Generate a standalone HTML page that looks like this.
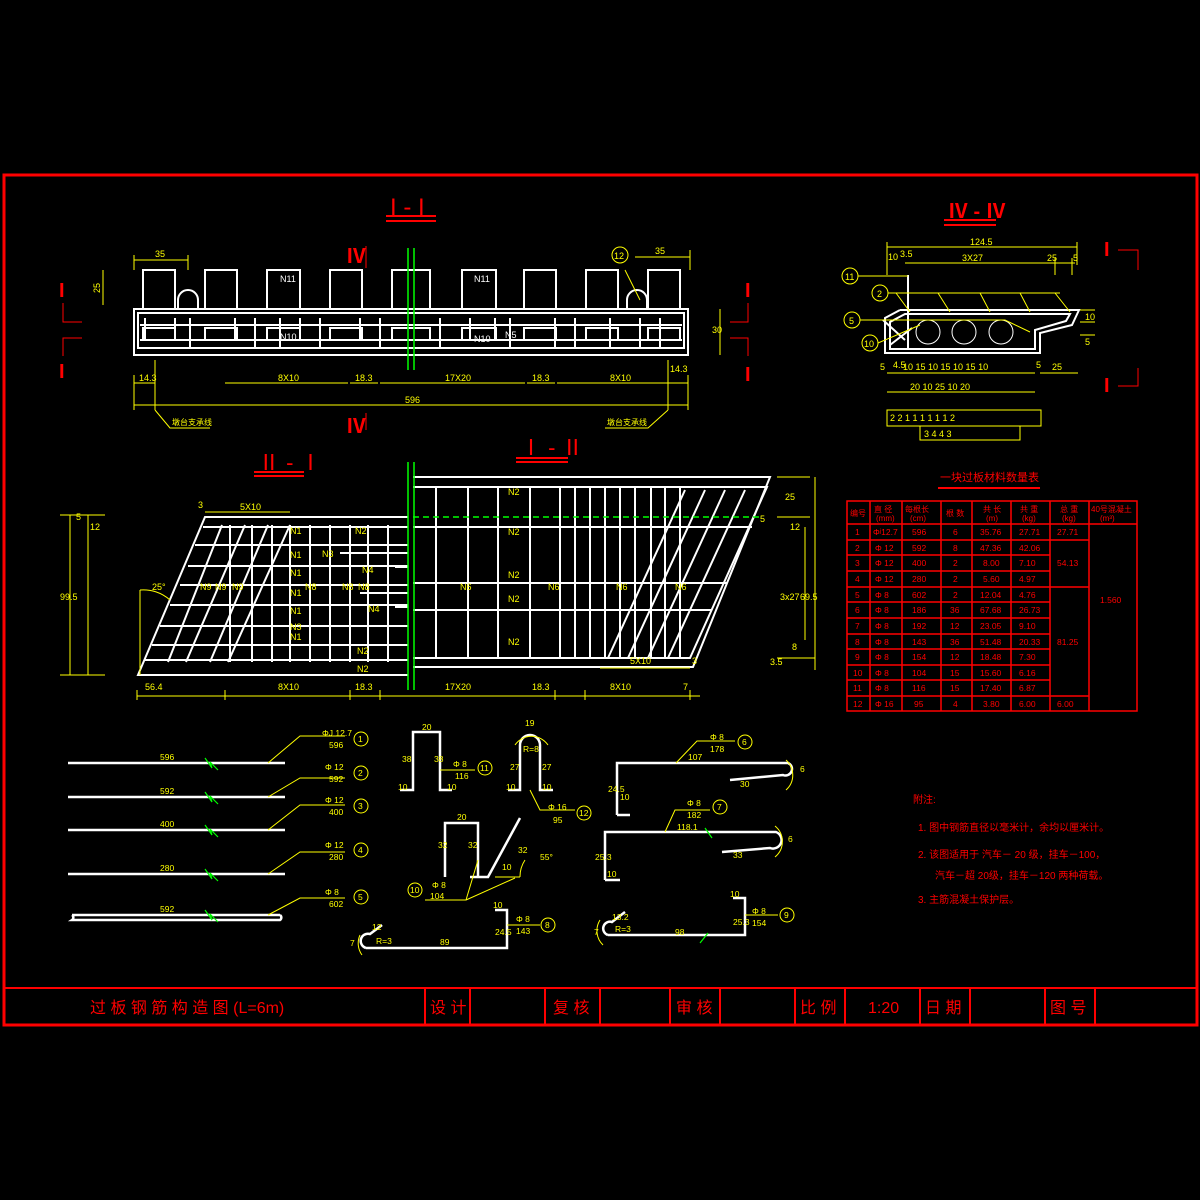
<!DOCTYPE html>
<html><head><meta charset="utf-8"><style>
body{margin:0;background:#000;width:1200px;height:1200px;overflow:hidden}
svg{display:block}
text{font-family:"Liberation Sans","Noto Sans CJK SC",sans-serif}
.y{fill:#ff0}.r{fill:#f00}.w{fill:#fff}
</style></head><body>
<svg width="1200" height="1200" viewBox="0 0 1200 1200" xmlns="http://www.w3.org/2000/svg">
<rect width="1200" height="1200" fill="#000"/>
<!-- frame -->
<rect x="4" y="175" width="1193" height="850" fill="none" stroke="#f00" stroke-width="3"/>
<line x1="4" y1="988" x2="1197" y2="988" stroke="#f00" stroke-width="2"/>
<g stroke="#f00" stroke-width="2">
<line x1="425" y1="988" x2="425" y2="1025"/><line x1="470" y1="988" x2="470" y2="1025"/>
<line x1="545" y1="988" x2="545" y2="1025"/><line x1="600" y1="988" x2="600" y2="1025"/>
<line x1="670" y1="988" x2="670" y2="1025"/><line x1="720" y1="988" x2="720" y2="1025"/>
<line x1="795" y1="988" x2="795" y2="1025"/><line x1="845" y1="988" x2="845" y2="1025"/>
<line x1="920" y1="988" x2="920" y2="1025"/><line x1="970" y1="988" x2="970" y2="1025"/>
<line x1="1045" y1="988" x2="1045" y2="1025"/><line x1="1095" y1="988" x2="1095" y2="1025"/>
</g>
<g class="r" font-size="16">
<text x="90" y="1013">过 板 钢 筋 构 造 图  (L=6m)</text>
<text x="430" y="1013">设 计</text><text x="553" y="1013">复 核</text>
<text x="676" y="1013">审 核</text><text x="800" y="1013">比 例</text>
<text x="868" y="1013">1:20</text><text x="925" y="1013">日 期</text>
<text x="1050" y="1013">图 号</text>
</g>

<!-- I-I title -->
<text x="390" y="215" class="r" font-size="24" font-family="Liberation Serif">I - I</text>
<line x1="386" y1="216" x2="436" y2="216" stroke="#f00" stroke-width="2"/><line x1="386" y1="221" x2="436" y2="221" stroke="#f00" stroke-width="2"/>
<!-- I-I section -->
<g stroke="#fff" stroke-width="2" fill="none">
<rect x="134" y="309" width="554" height="46"/>
<rect x="138" y="313" width="546" height="35"/>
<line x1="140" y1="340" x2="682" y2="340"/><line x1="140" y1="325" x2="682" y2="325"/>
<path d="M143 309V270H175V309M205 309V270H237V309M267 309V270H300V309M330 309V270H362V309M392 309V270H430V309M462 309V270H496V309M524 309V270H556V309M586 309V270H618V309M648 309V270H680V309"/>
<path d="M143 340V328H175V340M205 340V328H237V340M267 340V328H300V340M330 340V328H362V340M392 340V328H430V340M462 340V328H496V340M524 340V328H556V340M586 340V328H618V340M648 340V328H680V340"/>
<path d="M178 309V300A10 10 0 0 1 198 300V309M627 309V300A10 10 0 0 1 647 300V309"/>
<path d="M145 318V340M175 318V340M190 318V348M235 318V340M255 318V348M280 318V348M300 318V340M320 318V348M360 318V340M380 318V348M440 318V348M470 318V340M495 318V340M510 318V348M555 318V348M575 318V348M610 318V348M640 318V348M660 318V348"/>
</g>
<g stroke="#0f0" stroke-width="1.5"><line x1="408" y1="248" x2="408" y2="370"/><line x1="414" y1="248" x2="414" y2="370"/></g>
<g class="w" font-size="9"><text x="280" y="282">N11</text><text x="474" y="282">N11</text><text x="280" y="340">N10</text><text x="474" y="342">N10</text><text x="505" y="338">N5</text></g>
<g stroke="#ff0" stroke-width="1" fill="none">
<line x1="134" y1="260" x2="188" y2="260"/><line x1="134" y1="255" x2="134" y2="270"/><line x1="188" y1="255" x2="188" y2="270"/>
<line x1="635" y1="257" x2="690" y2="257"/><line x1="690" y1="250" x2="690" y2="270"/>
<line x1="103" y1="270" x2="103" y2="305"/><line x1="720" y1="309" x2="720" y2="355"/>
<line x1="134" y1="383" x2="155" y2="383"/><line x1="225" y1="383" x2="348" y2="383"/><line x1="350" y1="383" x2="378" y2="383"/><line x1="380" y1="383" x2="525" y2="383"/><line x1="527" y1="383" x2="555" y2="383"/><line x1="557" y1="383" x2="668" y2="383"/><line x1="668" y1="383" x2="688" y2="383"/>
<line x1="134" y1="405" x2="688" y2="405"/><line x1="134" y1="375" x2="134" y2="410"/><line x1="688" y1="375" x2="688" y2="410"/>
<line x1="155" y1="360" x2="155" y2="410"/><line x1="668" y1="360" x2="668" y2="410"/>
<path d="M155 410L170 428H210M668 410L648 428H605"/>
<line x1="625" y1="270" x2="640" y2="300"/>
</g>
<circle cx="620" cy="255" r="8" fill="none" stroke="#ff0"/>
<g class="y" font-size="9">
<text x="155" y="257">35</text><text x="655" y="254">35</text><text x="92" y="295" transform="rotate(-90 95 290)">25</text>
<text x="614" y="259">12</text>
<text x="139" y="381">14.3</text><text x="278" y="381">8X10</text><text x="355" y="381">18.3</text><text x="445" y="381">17X20</text><text x="532" y="381">18.3</text><text x="610" y="381">8X10</text><text x="670" y="372">14.3</text>
<text x="405" y="403">596</text><text x="172" y="425" font-size="8">墩台支承线</text><text x="607" y="425" font-size="8">墩台支承线</text>
<text x="712" y="333">30</text>
</g>
<g class="r" font-size="20" font-family="Liberation Serif" font-weight="bold">
<text x="346" y="263">Ⅳ</text><text x="346" y="433">Ⅳ</text>
<text x="59" y="297">I</text><text x="59" y="378">I</text><text x="745" y="297">I</text><text x="745" y="381">I</text>
</g>
<g stroke="#f00" fill="none"><path d="M63 303V322H82M63 356V338H82M748 303V322H730M748 356V338H730M366 246V268M366 413V430"/></g>

<!-- II-II -->
<text x="258" y="470" class="r" font-size="22" font-family="Liberation Serif">Ⅱ - Ⅰ</text>
<line x1="254" y1="472" x2="304" y2="472" stroke="#f00" stroke-width="2"/><line x1="254" y1="476" x2="304" y2="476" stroke="#f00" stroke-width="2"/>
<text x="520" y="455" class="r" font-size="22" font-family="Liberation Serif">Ⅰ - Ⅱ</text>
<line x1="516" y1="458" x2="568" y2="458" stroke="#f00" stroke-width="2"/><line x1="516" y1="462" x2="568" y2="462" stroke="#f00" stroke-width="2"/>
<g stroke="#fff" stroke-width="2" fill="none">
<path d="M408 517H205L138 675H408"/>
<path d="M408 527H203M408 545H195M408 566H188M408 585H180M408 605H170M408 626H160M408 645H152M408 660H145"/>
<path d="M230 525V662M252 525V662M272 525V662M290 525V662M310 525V662M330 525V662M350 525V662M368 525V662M388 525V662"/>
<path d="M222 525L168 662M245 525L186 662M268 525L210 662M290 525L228 662"/>
<path d="M413 477H770L693 667H413"/>
<path d="M413 487H767L690 658H413"/>
<path d="M413 527H752M413 583H727M413 610H712"/>
<path d="M436 487V658M468 487V658M498 487V658M530 487V658M560 487V658M575 487V658M590 487V658M605 487V658M620 487V658M635 487V658M651 487V658M665 487V658M680 487V658"/>
<path d="M685 490L608 658M705 490L628 658M725 490L648 658M745 490L668 658"/>
<path d="M340 553H408M360 593H408M395 567H408M395 607H408"/>
</g>
<line x1="413" y1="517" x2="760" y2="517" stroke="#0f0" stroke-width="1.5" stroke-dasharray="6 4"/>
<g stroke="#0f0" stroke-width="1.5"><line x1="408" y1="462" x2="408" y2="690"/><line x1="414" y1="462" x2="414" y2="690"/></g>
<g class="y" font-size="9">
<text x="355" y="534">N2</text><text x="290" y="534">N1</text><text x="290" y="558">N1</text><text x="290" y="576">N1</text><text x="290" y="596">N1</text><text x="290" y="614">N1</text><text x="290" y="630">N3</text><text x="290" y="640">N1</text>
<text x="322" y="557">N3</text><text x="362" y="573">N4</text><text x="368" y="612">N4</text><text x="357" y="654">N2</text><text x="357" y="672">N2</text>
<text x="508" y="495">N2</text><text x="508" y="535">N2</text><text x="508" y="578">N2</text><text x="508" y="602">N2</text><text x="508" y="645">N2</text>
<text x="460" y="590">N6</text><text x="548" y="590">N6</text><text x="616" y="590">N6</text><text x="675" y="590">N6</text>
<text x="200" y="590">N9</text><text x="215" y="590">N9</text><text x="232" y="590">N9</text><text x="305" y="590">N8</text><text x="342" y="590">N8</text><text x="358" y="590">N8</text>
<text x="240" y="510">5X10</text><text x="198" y="508">3</text><text x="630" y="664">5X10</text><text x="692" y="664">3</text>
<text x="152" y="590">25°</text>
<text x="145" y="690">56.4</text><text x="278" y="690">8X10</text><text x="355" y="690">18.3</text><text x="445" y="690">17X20</text><text x="532" y="690">18.3</text><text x="610" y="690">8X10</text><text x="683" y="690">7</text>
<text x="785" y="500">25</text><text x="760" y="522">5</text><text x="790" y="530">12</text><text x="780" y="600">3x27</text><text x="800" y="600">69.5</text><text x="792" y="650">8</text><text x="770" y="665">3.5</text>
<text x="60" y="600">99.5</text><text x="76" y="520">5</text><text x="90" y="530">12</text>
</g>
<g stroke="#ff0" stroke-width="1" fill="none">
<path d="M137 696H700M137 690V700M225 690V700M350 690V700M380 690V700M555 690V700M585 690V700M690 690V700"/>
<path d="M205 512H290M600 668H690M777 477H810M777 517H810M805 527V640M815 477V670M777 658H815"/>
<path d="M70 515V675M88 515V675M60 515H105M60 675H105"/>
<path d="M140 590V675M140 590A40 40 0 0 1 170 600"/>
</g>

<!-- IV-IV -->
<text x="948" y="218" class="r" font-size="20" font-family="Liberation Serif" font-weight="bold">Ⅳ - Ⅳ</text>
<line x1="944" y1="220" x2="996" y2="220" stroke="#f00" stroke-width="2"/><line x1="944" y1="225" x2="996" y2="225" stroke="#f00" stroke-width="2"/>
<g stroke="#fff" stroke-width="2" fill="none">
<path d="M900 310H1079L1072 325L1040 333V353H885V318L900 310"/>
<path d="M905 314H1070L1066 321L1035 330V349H890V322Z"/>
<circle cx="928" cy="332" r="12" stroke-width="1"/><circle cx="964" cy="332" r="12" stroke-width="1"/><circle cx="1001" cy="332" r="12" stroke-width="1"/>
<path d="M908 275V350M883 320L905 340M890 345L912 328"/>
</g>
<g stroke="#ff0" stroke-width="1" fill="none">
<path d="M887 247H1077M887 242V275M1077 242V265M905 263H1075M1055 258V275M1072 258V275"/>
<path d="M858 276H908M888 293H1060M896 293L910 312M938 293L950 312M980 293L990 312M1020 293L1030 312M1055 293L1070 312M860 320H1005L1030 332M878 343L920 325"/>
<path d="M887 373H1035M887 392H1035M1040 373H1078M1080 310H1095M1080 322H1095M1080 335H1095"/>
<rect x="887" y="410" width="154" height="16"/><rect x="920" y="426" width="100" height="14"/>
</g>
<g fill="none" stroke="#ff0"><circle cx="850" cy="276" r="8"/><circle cx="880" cy="293" r="8"/><circle cx="852" cy="320" r="8"/><circle cx="870" cy="343" r="8"/></g>
<g class="y" font-size="9">
<text x="845" y="280">11</text><text x="877" y="297">2</text><text x="849" y="324">5</text><text x="864" y="347">10</text>
<text x="970" y="245">124.5</text><text x="888" y="260">10</text><text x="900" y="257">3.5</text><text x="962" y="261">3X27</text><text x="1047" y="261">25</text><text x="1073" y="261">5</text>
<text x="1085" y="320">10</text><text x="1085" y="345">5</text>
<text x="880" y="370">5</text><text x="893" y="368">4.5</text><text x="903" y="370">10  15  10  15  10  15  10</text><text x="1036" y="368">5</text><text x="1052" y="370">25</text>
<text x="910" y="390">20   10     25    10   20</text>
<text x="890" y="421">2  2  1       1       1       1       1      1  2</text>
<text x="924" y="437">3       4                  4       3</text>
</g>
<g class="r" font-size="20" font-family="Liberation Serif" font-weight="bold"><text x="1104" y="256">I</text><text x="1104" y="392">I</text></g>
<g stroke="#f00" fill="none"><path d="M1118 250H1138V270M1118 386H1138V368"/></g>

<!-- material table -->
<text x="940" y="481" class="r" font-size="11">一块过板材料数量表</text>
<line x1="938" y1="488" x2="1040" y2="488" stroke="#f00" stroke-width="2"/>
<g stroke="#f00" stroke-width="1.5" fill="none">
<rect x="847" y="501" width="290" height="210"/>
<path d="M870 501V711M902 501V711M941 501V711M972 501V711M1011 501V711M1050 501V711M1089 501V711"/>
<path d="M847 524H1137M847 540H1089M847 555H1050M847 571H1050M847 587H1089M847 602H1050M847 618H1050M847 634H1050M847 649H1050M847 665H1050M847 680H1050M847 696H1089"/>
</g>
<g class="r" font-size="8">
<text x="850" y="516">编号</text><text x="874" y="512">直 径</text><text x="876" y="521">(mm)</text><text x="905" y="512">每根长</text><text x="910" y="521">(cm)</text><text x="946" y="516">根 数</text>
<text x="983" y="512">共 长</text><text x="986" y="521">(m)</text><text x="1020" y="512">共 重</text><text x="1022" y="521">(kg)</text><text x="1060" y="512">总 重</text><text x="1062" y="521">(kg)</text><text x="1091" y="512">40号混凝土</text><text x="1100" y="521">(m³)</text>
</g>
<g class="r" font-size="8.5">
<text x="855" y="535">1</text><text x="873" y="535">Φʲ12.7</text><text x="912" y="535">596</text><text x="953" y="535">6</text><text x="980" y="535">35.76</text><text x="1019" y="535">27.71</text><text x="1057" y="535">27.71</text>
<text x="855" y="551">2</text><text x="875" y="551">Φ 12</text><text x="912" y="551">592</text><text x="953" y="551">8</text><text x="980" y="551">47.36</text><text x="1019" y="551">42.06</text>
<text x="855" y="566">3</text><text x="875" y="566">Φ 12</text><text x="912" y="566">400</text><text x="953" y="566">2</text><text x="983" y="566">8.00</text><text x="1019" y="566">7.10</text><text x="1057" y="566">54.13</text>
<text x="855" y="582">4</text><text x="875" y="582">Φ 12</text><text x="912" y="582">280</text><text x="953" y="582">2</text><text x="983" y="582">5.60</text><text x="1019" y="582">4.97</text>
<text x="855" y="598">5</text><text x="875" y="598">Φ 8</text><text x="912" y="598">602</text><text x="953" y="598">2</text><text x="980" y="598">12.04</text><text x="1019" y="598">4.76</text><text x="1100" y="603">1.560</text>
<text x="855" y="613">6</text><text x="875" y="613">Φ 8</text><text x="912" y="613">186</text><text x="950" y="613">36</text><text x="980" y="613">67.68</text><text x="1019" y="613">26.73</text>
<text x="855" y="629">7</text><text x="875" y="629">Φ 8</text><text x="912" y="629">192</text><text x="950" y="629">12</text><text x="980" y="629">23.05</text><text x="1019" y="629">9.10</text>
<text x="855" y="645">8</text><text x="875" y="645">Φ 8</text><text x="912" y="645">143</text><text x="950" y="645">36</text><text x="980" y="645">51.48</text><text x="1019" y="645">20.33</text><text x="1057" y="645">81.25</text>
<text x="855" y="660">9</text><text x="875" y="660">Φ 8</text><text x="912" y="660">154</text><text x="950" y="660">12</text><text x="980" y="660">18.48</text><text x="1019" y="660">7.30</text>
<text x="853" y="676">10</text><text x="875" y="676">Φ 8</text><text x="912" y="676">104</text><text x="950" y="676">15</text><text x="980" y="676">15.60</text><text x="1019" y="676">6.16</text>
<text x="853" y="691">11</text><text x="875" y="691">Φ 8</text><text x="912" y="691">116</text><text x="950" y="691">15</text><text x="980" y="691">17.40</text><text x="1019" y="691">6.87</text>
<text x="853" y="707">12</text><text x="875" y="707">Φ 16</text><text x="914" y="707">95</text><text x="953" y="707">4</text><text x="983" y="707">3.80</text><text x="1019" y="707">6.00</text><text x="1057" y="707">6.00</text>
</g>
<!-- notes -->
<g class="r" font-size="10">
<text x="913" y="803">附注:</text>
<text x="918" y="831">1.  图中钢筋直径以毫米计，余均以厘米计。</text>
<text x="918" y="858">2.  该图适用于 汽车－ 20 级，挂车－100，</text>
<text x="935" y="879">汽车－超 20级，挂车－120  两种荷载。</text>
<text x="918" y="903">3.  主筋混凝土保护层。</text>
</g>

<!-- bar details -->
<g stroke="#fff" stroke-width="2.5" fill="none">
<path d="M68 763H285M68 797H285M68 830H285M68 874H285M72 915H280M72 915A3 3 0 0 1 72 920H280A3 3 0 0 0 280 915"/>
<path d="M400 790H413V732H440V790H452"/>
<path d="M508 790H520V745A10 10 0 0 1 540 745V790H553"/>
<path d="M445 877V823H478V877"/><path d="M470 877H488L520 818"/>
<path d="M617 815V763H788A5 5 0 0 1 783 775L730 780M617 815H630"/>
<path d="M605 880V832H776A8 8 0 0 1 770 848L722 852M605 880H620"/>
<path d="M366 948H507V910H495M366 948A6 6 0 0 1 370 934L382 925"/>
<path d="M608 935H745V898H733M608 935A6 6 0 0 1 612 922L625 912"/>
</g>
<g stroke="#ff0" stroke-width="1" fill="none">
<path d="M268 763L300 736H345M268 797L300 778H345M268 830L300 805H345M268 874L300 852H345M268 915L300 898H345"/>
<path d="M440 770H475M530 790L540 810H575M478 860L466 900H425M466 900L515 878M495 877H520M520 877A30 30 0 0 1 525 860"/>
<path d="M515 745A20 20 0 0 1 548 745M676 763L697 741H735M665 832L675 810H710M507 925H540M745 915H778"/>
<path d="M360 935A20 20 0 0 0 362 955M600 920A20 20 0 0 0 603 945M786 760A20 20 0 0 1 786 790M775 826A20 20 0 0 1 775 857"/>
</g>
<g fill="none" stroke="#ff0"><circle cx="361" cy="739" r="7"/><circle cx="361" cy="773" r="7"/><circle cx="361" cy="806" r="7"/><circle cx="361" cy="850" r="7"/><circle cx="361" cy="897" r="7"/><circle cx="485" cy="768" r="7"/><circle cx="584" cy="813" r="7"/><circle cx="415" cy="890" r="7"/><circle cx="745" cy="742" r="7"/><circle cx="720" cy="807" r="7"/><circle cx="548" cy="925" r="7"/><circle cx="787" cy="915" r="7"/></g>
<g class="y" font-size="8.5">
<text x="358" y="742">1</text><text x="358" y="776">2</text><text x="358" y="809">3</text><text x="358" y="853">4</text><text x="358" y="900">5</text>
<text x="480" y="771">11</text><text x="579" y="816">12</text><text x="410" y="893">10</text><text x="742" y="745">6</text><text x="717" y="810">7</text><text x="545" y="928">8</text><text x="784" y="918">9</text>
<text x="322" y="736">ΦJ 12.7</text><text x="329" y="748">596</text><text x="325" y="770">Φ 12</text><text x="329" y="782">592</text><text x="325" y="803">Φ 12</text><text x="329" y="815">400</text><text x="325" y="848">Φ 12</text><text x="329" y="860">280</text><text x="325" y="895">Φ 8</text><text x="329" y="907">602</text>
<text x="160" y="760">596</text><text x="160" y="794">592</text><text x="160" y="827">400</text><text x="160" y="871">280</text><text x="160" y="912">592</text>
<text x="422" y="730">20</text><text x="402" y="762">38</text><text x="434" y="762">38</text><text x="398" y="790">10</text><text x="447" y="790">10</text><text x="453" y="767">Φ 8</text><text x="455" y="779">116</text>
<text x="525" y="726">19</text><text x="523" y="752">R=8</text><text x="510" y="770">27</text><text x="542" y="770">27</text><text x="506" y="790">10</text><text x="542" y="790">10</text><text x="548" y="810">Φ 16</text><text x="553" y="823">95</text>
<text x="457" y="820">20</text><text x="438" y="848">32</text><text x="468" y="848">32</text><text x="502" y="870">10</text><text x="518" y="853">32</text><text x="540" y="860">55°</text><text x="432" y="888">Φ 8</text><text x="430" y="899">104</text>
<text x="688" y="760">107</text><text x="608" y="792">24.5</text><text x="620" y="800">10</text><text x="740" y="787">30</text><text x="800" y="772">6</text><text x="710" y="740">Φ 8</text><text x="710" y="752">178</text>
<text x="677" y="830">118.1</text><text x="595" y="860">25.3</text><text x="607" y="877">10</text><text x="733" y="858">33</text><text x="788" y="842">6</text><text x="687" y="806">Φ 8</text><text x="687" y="818">182</text>
<text x="440" y="945">89</text><text x="493" y="908">10</text><text x="495" y="935">24.5</text><text x="372" y="930">12</text><text x="376" y="944">R=3</text><text x="350" y="946">7</text><text x="516" y="922">Φ 8</text><text x="516" y="934">143</text>
<text x="675" y="935">98</text><text x="730" y="897">10</text><text x="733" y="925">25.3</text><text x="612" y="920">13.2</text><text x="615" y="932">R=3</text><text x="594" y="935">7</text><text x="752" y="914">Φ 8</text><text x="752" y="926">154</text>
</g>
<g stroke="#0f0" stroke-width="1.2" fill="none"><path d="M205 758L212 768L210 762L218 770M205 792L212 802L210 796L218 804M205 825L212 835L210 829L218 837M205 869L212 879L210 873L218 881M205 910L212 920L210 914L218 922M705 828L712 838M700 943L708 933"/></g>
</svg>
</body></html>
